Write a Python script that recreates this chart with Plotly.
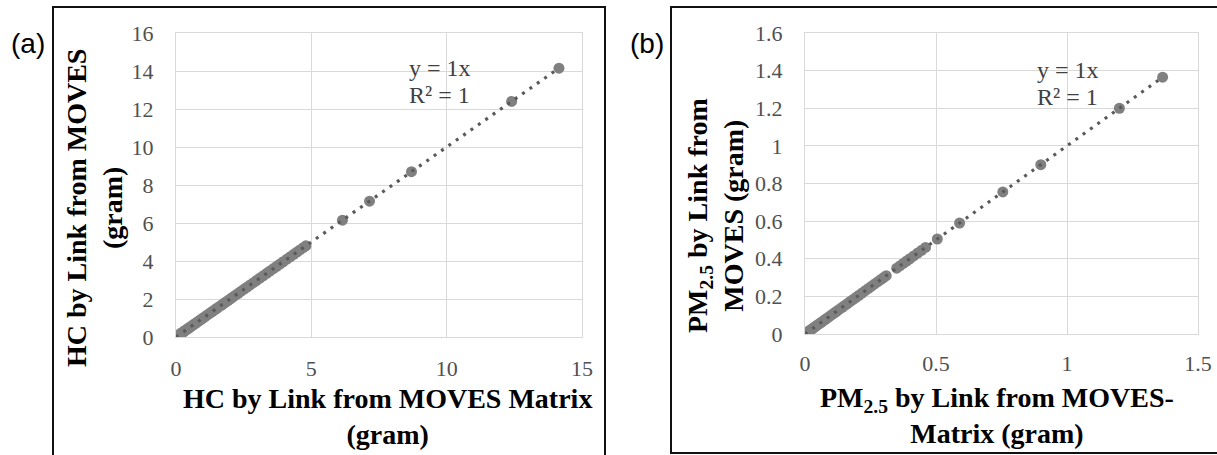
import plotly.graph_objects as go

W, H = 1217, 455

# ---- data (a) HC, grams: MOVES-Matrix vs MOVES (identical, y = 1x) ----
hc_matrix = [0.02, 0.04, 0.05, 0.07, 0.09, 0.11, 0.13, 0.15, 0.18, 0.2, 0.23, 0.26, 0.3,
             0.33, 0.37, 0.41, 0.46, 0.5, 0.55, 0.61, 0.66, 0.72, 0.79, 0.85, 0.92, 0.98,
             1.05, 1.12, 1.2, 1.27, 1.35, 1.43, 1.5, 1.58, 1.67, 1.75, 1.84, 1.92, 2.01,
             2.1, 2.2, 2.3, 2.41, 2.52, 2.63, 2.74, 2.86, 2.97, 3.1, 3.22, 3.35, 3.47,
             3.6, 3.72, 3.84, 3.96, 4.1, 4.22, 4.35, 4.47, 4.58, 4.7, 4.8,
             6.15, 7.15, 8.7, 12.4, 14.15]
hc_moves = [0.02, 0.04, 0.05, 0.07, 0.09, 0.11, 0.13, 0.15, 0.18, 0.2, 0.23, 0.26, 0.3,
            0.33, 0.37, 0.41, 0.46, 0.5, 0.55, 0.61, 0.66, 0.72, 0.79, 0.85, 0.92, 0.98,
            1.05, 1.12, 1.2, 1.27, 1.35, 1.43, 1.5, 1.58, 1.67, 1.75, 1.84, 1.92, 2.01,
            2.1, 2.2, 2.3, 2.41, 2.52, 2.63, 2.74, 2.86, 2.97, 3.1, 3.22, 3.35, 3.47,
            3.6, 3.72, 3.84, 3.96, 4.1, 4.22, 4.35, 4.47, 4.58, 4.7, 4.8,
            6.15, 7.15, 8.7, 12.4, 14.15]
hc_trend_x = [0, 14.15]
hc_trend_y = [0, 14.15]

# ---- data (b) PM2.5, grams ----
pm_matrix = [0.002, 0.005, 0.008, 0.012, 0.016, 0.02, 0.025, 0.03, 0.036, 0.042, 0.048,
             0.055, 0.062, 0.07, 0.078, 0.086, 0.095, 0.104, 0.113, 0.122, 0.132, 0.142,
             0.152, 0.162, 0.173, 0.184, 0.195, 0.206, 0.218, 0.23, 0.242, 0.254, 0.266,
             0.278, 0.29, 0.3, 0.31, 0.35, 0.362, 0.375, 0.388, 0.4, 0.415, 0.43, 0.445,
             0.46, 0.505, 0.59, 0.755, 0.9, 1.2, 1.365]
pm_moves = [0.002, 0.005, 0.008, 0.012, 0.016, 0.02, 0.025, 0.03, 0.036, 0.042, 0.048,
            0.055, 0.062, 0.07, 0.078, 0.086, 0.095, 0.104, 0.113, 0.122, 0.132, 0.142,
            0.152, 0.162, 0.173, 0.184, 0.195, 0.206, 0.218, 0.23, 0.242, 0.254, 0.266,
            0.278, 0.29, 0.3, 0.31, 0.35, 0.362, 0.375, 0.388, 0.4, 0.415, 0.43, 0.445,
            0.46, 0.505, 0.59, 0.755, 0.9, 1.2, 1.365]
pm_trend_x = [0, 1.365]
pm_trend_y = [0, 1.365]

hc_x_ticks = [0, 5, 10, 15]
hc_y_ticks = [0, 2, 4, 6, 8, 10, 12, 14, 16]
pm_x_ticks = [0, 0.5, 1, 1.5]
pm_y_ticks = [0, 0.2, 0.4, 0.6, 0.8, 1, 1.2, 1.4, 1.6]

# ---- styling ----
SERIF = "Liberation Serif, Times New Roman, serif"
MARKER = "#808080"
TREND = "#5a5a5a"
GRID = "#d9d9d9"
TICKC = "#505050"


def px(x):
    return x / W


def py(y):
    return 1 - y / H


fig = go.Figure()

for xs, ys, tx, ty, xa, ya in [
    (hc_matrix, hc_moves, hc_trend_x, hc_trend_y, "x", "y"),
    (pm_matrix, pm_moves, pm_trend_x, pm_trend_y, "x2", "y2"),
]:
    fig.add_trace(go.Scatter(x=xs, y=ys, mode="markers", xaxis=xa, yaxis=ya,
                             marker=dict(color=MARKER, size=11, line=dict(width=0)),
                             showlegend=False, hoverinfo="skip"))
    fig.add_trace(go.Scatter(x=tx, y=ty, mode="lines", xaxis=xa, yaxis=ya,
                             line=dict(color=TREND, width=3.2, dash="3px,6px"),
                             showlegend=False, hoverinfo="skip"))

axis_common = dict(showgrid=True, gridcolor=GRID, gridwidth=1, zeroline=False,
                   showline=True, linecolor=GRID, linewidth=1, mirror=True,
                   ticks="", tickfont=dict(family=SERIF, size=22, color=TICKC),
                   fixedrange=True, automargin=False)

fig.update_layout(
    width=W, height=H,
    margin=dict(l=0, r=0, t=0, b=0, autoexpand=False),
    paper_bgcolor="white", plot_bgcolor="white",
    xaxis=dict(domain=[px(176), px(582)], range=[0, 15], tickvals=hc_x_ticks,
               anchor="y", ticklabelstandoff=12, **axis_common),
    yaxis=dict(domain=[py(337), py(33)], range=[0, 16], tickvals=hc_y_ticks,
               anchor="x", ticklabelstandoff=17, **axis_common),
    xaxis2=dict(domain=[px(805), px(1198)], range=[0, 1.5], tickvals=pm_x_ticks,
                anchor="y2", ticklabelstandoff=10, **axis_common),
    yaxis2=dict(domain=[py(334), py(33)], range=[0, 1.6], tickvals=pm_y_ticks,
                anchor="x2", ticklabelstandoff=17, **axis_common),
)

TITLE_FONT = dict(family=SERIF, size=28, color="black")
P = dict(xref="paper", yref="paper", showarrow=False)
ann = []
# axis titles
ann.append(dict(text="<b>HC by Link from MOVES Matrix</b><br><b>(gram)</b>",
                x=px(387), y=py(416), xanchor="center", yanchor="middle",
                font=TITLE_FONT, **P))
ann.append(dict(text="<b>HC by Link from MOVES</b><br><b>(gram)</b>",
                x=px(95), y=py(208), xanchor="center", yanchor="middle",
                textangle=-90, font=TITLE_FONT, **P))
ann.append(dict(text="<b>PM<sub>2.5</sub> by Link from MOVES-</b><br><b>Matrix (gram)</b>",
                x=px(997), y=py(415), xanchor="center", yanchor="middle",
                font=TITLE_FONT, **P))
ann.append(dict(text="<b>PM<sub>2.5</sub> by Link from</b><br><b>MOVES (gram)</b>",
                x=px(715), y=py(216), xanchor="center", yanchor="middle",
                textangle=-90, font=TITLE_FONT, **P))
# trend equations
EQ_FONT = dict(family=SERIF, size=24, color="#404040")
for x0, y1, y2 in [(407, 68, 95), (1035, 70, 97)]:
    ann.append(dict(text="y = 1x", x=px(x0), y=py(y1), xanchor="left", yanchor="middle",
                    font=EQ_FONT, **P))
    ann.append(dict(text="R² = 1", x=px(x0), y=py(y2), xanchor="left", yanchor="middle",
                    font=EQ_FONT, **P))
# panel labels
LAB_FONT = dict(family="Liberation Sans, Arial, sans-serif", size=28, color="black")
ann.append(dict(text="(a)", x=px(28), y=py(43), xanchor="center", yanchor="middle",
                font=LAB_FONT, **P))
ann.append(dict(text="(b)", x=px(647), y=py(43), xanchor="center", yanchor="middle",
                font=LAB_FONT, **P))
fig.update_layout(annotations=ann)

# panel frames
shapes = [
    dict(type="rect", xref="paper", yref="paper", x0=px(53), x1=px(605),
         y0=py(470), y1=py(7), line=dict(color="#111111", width=2)),
    dict(type="rect", xref="paper", yref="paper", x0=px(671), x1=px(1230),
         y0=py(453), y1=py(7), line=dict(color="#111111", width=2)),
]
fig.update_layout(shapes=shapes)

fig.write_html("out.html",
               config={"displayModeBar": False, "staticPlot": True},
               post_script="document.body.style.margin='0';"
                           "document.body.style.overflow='hidden';")
